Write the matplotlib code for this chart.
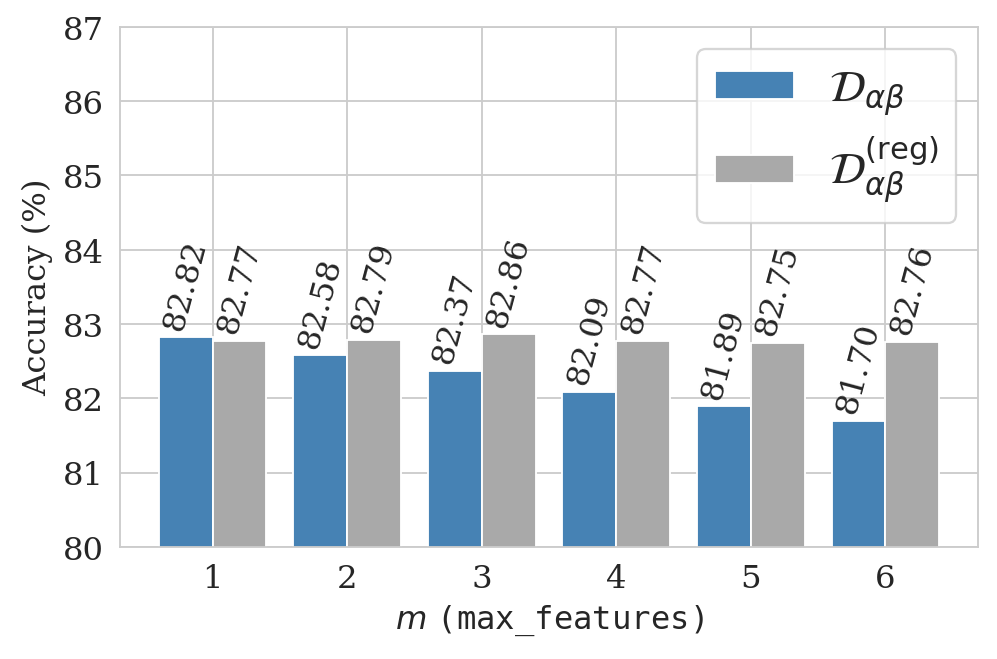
import numpy as np
import matplotlib
matplotlib.use('Agg')
import matplotlib.pyplot as plt
import seaborn as sns

sns.set_style('whitegrid')
plt.rcParams['font.family'] = ['DejaVu Serif']
plt.rcParams['mathtext.fontset'] = 'dejavusans'

m_values = [1, 2, 3, 4, 5, 6]
acc_ab = [82.82, 82.58, 82.37, 82.09, 81.89, 81.70]
acc_ab_reg = [82.77, 82.79, 82.86, 82.77, 82.75, 82.76]

x = np.array(m_values)
width = 0.4

fig, ax = plt.subplots(figsize=(6, 3.97), dpi=166.2)

b1 = ax.bar(x - width / 2, acc_ab, width, color='steelblue', edgecolor='white',
            linewidth=0.8, label=r'$\mathcal{D}_{\alpha\beta}$')
b2 = ax.bar(x + width / 2, acc_ab_reg, width, color='darkgray', edgecolor='white',
            linewidth=0.8, label=r'$\mathcal{D}_{\alpha\beta}^{(\mathrm{reg})}$')

for bars in (b1, b2):
    ax.bar_label(bars, labels=[f'{v:.2f}' for v in bars.datavalues],
                 rotation=75, padding=2, fontsize=14)

ax.set_ylim(80, 87)
ax.set_xticks(x)
ax.tick_params(labelsize=14)
ax.set_ylabel('Accuracy (%)', fontsize=14)
ax.set_xlabel(r'$m$ $\mathtt{(max\_features)}$', fontsize=14)
ax.legend(loc='upper right', fontsize=19, handlelength=1.8, handleheight=0.6,
          borderpad=0.4, labelspacing=0.4, handletextpad=0.8)

fig.subplots_adjust(left=0.120, right=0.981, top=0.958, bottom=0.170)
plt.savefig('out.png')
